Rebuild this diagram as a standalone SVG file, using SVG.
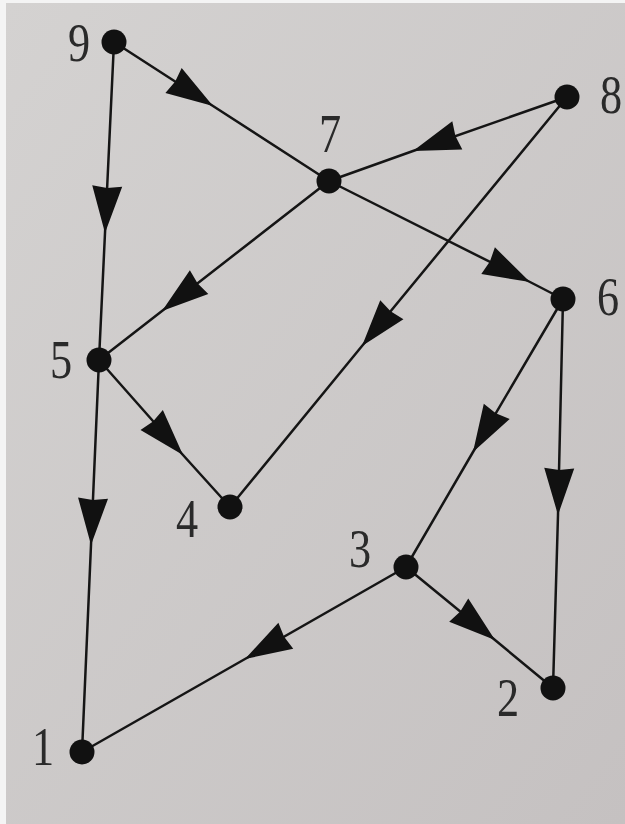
<svg xmlns="http://www.w3.org/2000/svg" width="625" height="824" viewBox="0 0 625 824">
<defs>
<linearGradient id="bg" x1="0" y1="0" x2="1" y2="1">
<stop offset="0" stop-color="#d4d2d1"/>
<stop offset="1" stop-color="#c5c1c1"/>
</linearGradient>
<marker id="arr" markerUnits="userSpaceOnUse" markerWidth="54" markerHeight="36" viewBox="-50 -18 54 36" refX="0" refY="0" orient="auto">
<path d="M0,0 L-47,-15 L-45,0 L-47,15 Z" fill="#111"/>
</marker>
</defs>
<style>
.edge{fill:none;stroke:#151515;stroke-width:2.5;marker-mid:url(#arr)}
.node circle{fill:#111}
.lbl{font-family:"Liberation Serif","Times New Roman",serif;font-size:54px;fill:#2a2a2a;text-anchor:middle}
</style>
<rect x="0" y="0" width="625" height="824" fill="#f4f4f4"/>
<rect x="6" y="3" width="619" height="821" fill="url(#bg)"/>
<g id="edges">
<path class="edge" d="M114,42 L213,106 L329,181"/>
<path class="edge" d="M114,42 L105,233 L99,360"/>
<path class="edge" d="M567,97 L413,151 L329,181"/>
<path class="edge" d="M567,97 L362,346 L230,507"/>
<path class="edge" d="M329,181 L530,282 L563,299"/>
<path class="edge" d="M329,181 L162,311 L99,360"/>
<path class="edge" d="M99,360 L183,455 L230,507"/>
<path class="edge" d="M99,360 L91,545 L82,752"/>
<path class="edge" d="M563,299 L473,452 L406,567"/>
<path class="edge" d="M563,299 L558,515 L553,688"/>
<path class="edge" d="M406,567 L495,640 L553,688"/>
<path class="edge" d="M406,567 L245,659 L82,752"/>
</g>
<g id="n9" class="node"><circle cx="114" cy="42" r="12.5"/><text class="lbl" transform="translate(79,61) scale(0.82,1)">9</text></g>
<g id="n8" class="node"><circle cx="567" cy="97" r="12.5"/><text class="lbl" transform="translate(611,113) scale(0.82,1)">8</text></g>
<g id="n7" class="node"><circle cx="329" cy="181" r="12.5"/><text class="lbl" transform="translate(330,152) scale(0.82,1)">7</text></g>
<g id="n6" class="node"><circle cx="563" cy="299" r="12.5"/><text class="lbl" transform="translate(608,315) scale(0.82,1)">6</text></g>
<g id="n5" class="node"><circle cx="99" cy="360" r="12.5"/><text class="lbl" transform="translate(61,378) scale(0.82,1)">5</text></g>
<g id="n4" class="node"><circle cx="230" cy="507" r="12.5"/><text class="lbl" transform="translate(187,537) scale(0.82,1)">4</text></g>
<g id="n3" class="node"><circle cx="406" cy="567" r="12.5"/><text class="lbl" transform="translate(360,567) scale(0.82,1)">3</text></g>
<g id="n2" class="node"><circle cx="553" cy="688" r="12.5"/><text class="lbl" transform="translate(508,716) scale(0.82,1)">2</text></g>
<g id="n1" class="node"><circle cx="82" cy="752" r="12.5"/><text class="lbl" transform="translate(43,765) scale(0.82,1)">1</text></g>
</svg>
